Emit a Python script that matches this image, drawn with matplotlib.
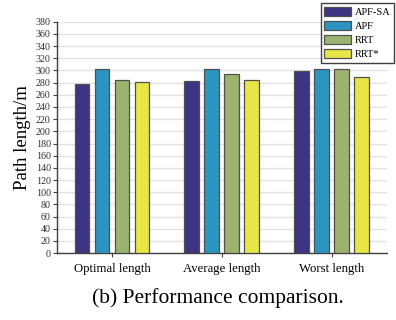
import matplotlib
matplotlib.use("Agg")
import matplotlib.pyplot as plt
import numpy as np

plt.rcParams['font.family'] = ['Liberation Serif', 'DejaVu Serif']

groups = ['Optimal length', 'Average length', 'Worst length']
methods = ['APF-SA', 'APF', 'RRT', 'RRT*']
colors = ['#3d3482', '#2b94c0', '#9bb36f', '#e8e546']

apf_sa = [277, 282, 299]
apf = [303, 303, 303]
rrt = [284, 294, 302]
rrt_star = [281, 284, 290]
values = [apf_sa, apf, rrt, rrt_star]

fig = plt.figure(figsize=(3.96, 3.2), dpi=100)
ax = fig.add_axes([0.144, 0.209, 0.833, 0.723])

x = np.arange(len(groups))
step = 0.182
width = 0.136
for i, (vals, name, c) in enumerate(zip(values, methods, colors)):
    ax.bar(x + (i - 1.5) * step, vals, width, color=c, edgecolor='#505050',
           linewidth=0.9, label=name, zorder=3)

ax.set_xlim(-0.5, 2.5)
ax.set_ylim(0, 380)
ax.set_yticks(np.arange(0, 381, 20))
ax.set_xticks(x)
ax.set_xticklabels(groups, fontsize=9.2)
ax.tick_params(axis='y', labelsize=7.2, length=3, width=0.8, color='#404040',
               labelcolor='#303030', pad=1.5)
ax.tick_params(axis='x', length=3, width=0.8, color='#404040', pad=4)
ax.yaxis.grid(True, color='#e2e2e2', linewidth=1.0, zorder=0)
ax.set_axisbelow(True)
for s in ['top', 'right']:
    ax.spines[s].set_visible(False)
for s in ['left', 'bottom']:
    ax.spines[s].set_color('#404040')
    ax.spines[s].set_linewidth(1.0)

ax.set_ylabel('Path length/m', fontsize=13.5, labelpad=3)

leg = ax.legend(loc='upper right', bbox_to_anchor=(0.995, 0.991),
                bbox_transform=fig.transFigure, borderaxespad=0,
                fontsize=7.5, handlelength=2.6, handleheight=0.95,
                labelspacing=0.4, handletextpad=0.3, borderpad=0.35,
                fancybox=False, framealpha=1)
leg.get_frame().set_edgecolor('#404040')
leg.get_frame().set_linewidth(1.0)

fig.text(0.55, 0.07, '(b) Performance comparison.', fontsize=15.5,
         ha='center', va='center')

fig.savefig('out.png', dpi=100)
